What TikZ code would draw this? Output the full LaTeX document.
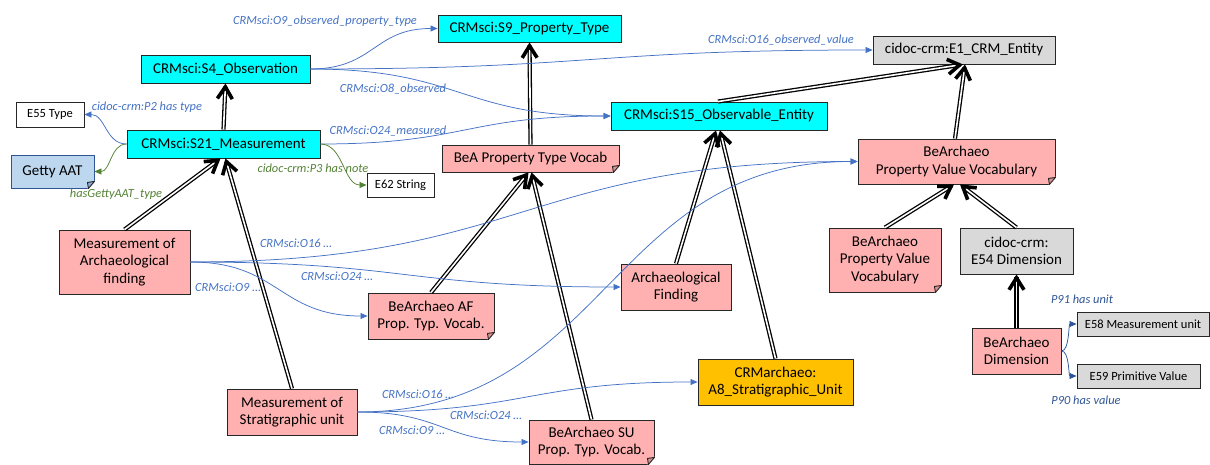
\documentclass[tikz,border=0pt]{standalone}
\usepackage{fontspec}
\setmainfont{Carlito}
\usetikzlibrary{arrows.meta,calc}
\definecolor{cyanc}{HTML}{00FFFF}
\definecolor{pinkc}{HTML}{FFB1B1}
\definecolor{foldp}{HTML}{D89090}
\definecolor{foldb}{HTML}{8FAADC}
\definecolor{greyc}{HTML}{D9D9D9}
\definecolor{orangec}{HTML}{FFC000}
\definecolor{gettyc}{HTML}{BDD7EE}
\definecolor{gettyb}{HTML}{2F5597}
\definecolor{bluec}{HTML}{4472C4}
\definecolor{dbluec}{HTML}{2F5597}
\definecolor{greenc}{HTML}{548235}
\definecolor{borderc}{HTML}{262626}
\tikzset{
 box/.style={draw=borderc, line width=0.9pt, inner sep=0pt, align=center, font=\fontsize{15}{17.5}\selectfont},
 cls/.style={box, fill=cyanc},
 ent/.style={box, fill=greyc},
 pnk/.style={box, fill=pinkc},
 wht/.style={box, fill=white},
 smallfont/.style={font=\fontsize{12.5}{15}\selectfont},
 lbl/.style={inner sep=0pt, text=bluec, font=\fontsize{12.4}{14}\selectfont\itshape},
 glbl/.style={lbl, text=greenc},
 dlbl/.style={lbl, text=dbluec},
 rel/.style={draw=bluec, line width=0.75pt, -{Triangle[length=7pt,width=6pt]}},
 grel/.style={rel, draw=greenc},
 drel/.style={rel, draw=dbluec},
 isaouter/.style={draw=black, line width=4.2pt, shorten >=3pt},
 isainner/.style={draw=white, line width=1.6pt, shorten >=6pt},
 isatip/.style={fill=black, draw=none},
}
\newcommand\isarrow[2]{%
 \draw[isaouter] (#1) -- (#2);
 \draw[isainner] (#1) -- (#2);
 \coordinate (tmpc) at ($(#2)!6.8pt!(#1)$);
 \fill[isatip] ($(#2)!17pt!32:(#1)$) -- (#2) -- ($(#2)!17pt!-32:(#1)$) -- ($(tmpc)!11.2pt!-32:(#1)$) -- (tmpc) -- ($(tmpc)!11.2pt!32:(#1)$) -- cycle;}
\newcommand\foldcorner[2]{%
 \fill[white] ($(#1.south east)+(-7.5,1)$) -- ($(#1.south east)+(1,1)$) -- ($(#1.south east)+(1,-8.5)$) -- cycle;
 \draw[borderc, line width=0.9pt, fill=#2, line join=round] ($(#1.south east)+(-6,0)$) -- ($(#1.south east)+(0,-7)$) -- ($(#1.south east)+(-7,-6)$) -- cycle;}
\begin{document}
\begin{tikzpicture}[x=1pt,y=-1pt]
\useasboundingbox (0,0) rectangle (1210,465);
% nodes
\node[cls, minimum width=183pt, minimum height=27pt] (s9) at (529.5,28.5) {CRMsci:S9\_Property\_Type};
\node[cls, minimum width=169pt, minimum height=28pt] (s4) at (225.5,69) {CRMsci:S4\_Observation};
\node[ent, minimum width=182pt, minimum height=28pt] (e1) at (964,50) {cidoc-crm:E1\_CRM\_Entity};
\node[cls, minimum width=216pt, minimum height=28pt] (s15) at (719,116) {CRMsci:S15\_Observable\_Entity};
\node[wht, smallfont, minimum width=68pt, minimum height=25pt] (e55) at (50,114.5) {E55 Type};
\node[cls, minimum width=193pt, minimum height=28pt] (s21) at (223.5,144) {CRMsci:S21\_Measurement};
\node[box, fill=gettyc, draw=gettyb, minimum width=83pt, minimum height=33pt] (getty) at (52.5,171.5) {Getty AAT};
\node[wht, smallfont, minimum width=67pt, minimum height=24pt] (e62) at (400.5,185) {E62 String};
\node[pnk, minimum width=177pt, minimum height=27pt] (beapt) at (530.5,158.5) {BeA Property Type Vocab};
\node[pnk, minimum width=197pt, minimum height=45pt] (pvv) at (956.5,161.5) {BeArchaeo\\Property Value Vocabulary};
\node[pnk, minimum width=131pt, minimum height=64pt] (maf) at (124.5,262) {Measurement of\\Archaeological\\finding};
\node[pnk, minimum width=112pt, minimum height=64pt] (pvv2) at (885,260) {BeArchaeo\\Property Value\\Vocabulary};
\node[ent, minimum width=113pt, minimum height=46pt] (dimbox) at (1016.5,251) {cidoc-crm:\\E54 Dimension};
\node[pnk, minimum width=110pt, minimum height=46pt] (af) at (676,287) {Archaeological\\Finding};
\node[pnk, minimum width=126pt, minimum height=46pt] (afv) at (431,316) {BeArchaeo AF\\Prop. Typ. Vocab.};
\node[ent, smallfont, minimum width=132pt, minimum height=24pt] (e58) at (1143,324) {E58 Measurement unit};
\node[pnk, minimum width=89pt, minimum height=46pt] (bdim) at (1016.5,351) {BeArchaeo\\Dimension};
\node[ent, smallfont, minimum width=123pt, minimum height=24pt] (e59) at (1138.5,376) {E59 Primitive Value};
\node[box, fill=orangec, minimum width=155pt, minimum height=46pt] (a8) at (775.5,382) {CRMarchaeo:\\A8\_Stratigraphic\_Unit};
\node[pnk, minimum width=130pt, minimum height=46pt] (msu) at (292,412) {Measurement of\\Stratigraphic unit};
\node[pnk, minimum width=125pt, minimum height=44pt] (suv) at (591.5,442) {BeArchaeo SU\\Prop. Typ. Vocab.};
% folded corners
\foldcorner{getty}{foldb}
\foldcorner{beapt}{foldp}
\foldcorner{pvv}{foldp}
\foldcorner{pvv2}{foldp}
\foldcorner{afv}{foldp}
\foldcorner{suv}{foldp}
% inheritance end points
\coordinate (s21a) at ([xshift=-3pt]s21.south);
\coordinate (s21b) at ([xshift=2pt]s21.south);
\coordinate (ptva) at ([xshift=-2pt]beapt.south);
\coordinate (ptvb) at ([xshift=1pt]beapt.south);
\coordinate (s15a) at ([xshift=-3pt]s15.south);
\coordinate (s15b) at ([xshift=1pt]s15.south);
\coordinate (s15t) at ([xshift=-1pt]s15.north);
\coordinate (e1a) at ([xshift=-1pt]e1.south);
\coordinate (e1b) at ([xshift=1pt]e1.south);
\coordinate (pvva) at ([xshift=-2.5pt]pvv.south);
\coordinate (pvvb) at ([xshift=3.5pt]pvv.south);
\coordinate (pvvt) at ([xshift=-1.5pt]pvv.north);
\coordinate (dimtop) at (bdim.north);
\coordinate (dimbot) at (dimbox.south);
% inheritance arrows
\isarrow{s21.north}{s4.south}
\isarrow{maf.north}{s21a}
\isarrow{msu.north}{s21b}
\isarrow{beapt.north}{s9.south}
\isarrow{afv.north}{ptva}
\isarrow{suv.north}{ptvb}
\isarrow{s15t}{e1a}
\isarrow{pvvt}{e1b}
\isarrow{af.north}{s15a}
\isarrow{a8.north}{s15b}
\isarrow{pvv2.north}{pvva}
\isarrow{dimbox.north}{pvvb}
\isarrow{dimtop}{dimbot}
% relations
\draw[rel] (s4.east) .. controls +(64,0) and +(-64,0) .. (s9.west);
\draw[rel] (s4.east) .. controls +(281,0) and +(-281,0) .. (e1.west);
\draw[rel] (s4.east) .. controls +(150,0) and +(-150,0) .. (s15.west);
\draw[rel] (s21.east) .. controls +(145,0) and +(-145,0) .. (s15.west);
\draw[rel] (s21.west) .. controls +(-21,0) and +(21,0) .. (e55.east);
\draw[grel] (s21.west) .. controls +(-16,0) and +(16,0) .. (getty.east);
\draw[grel] (s21.east) .. controls +(23,0) and +(-23,0) .. (e62.west);
\draw[rel] (maf.east) .. controls +(334,0) and +(-334,0) .. (pvv.west);
\draw[rel] (maf.east) .. controls +(215,0) and +(-215,0) .. (af.west);
\draw[rel] (maf.east) .. controls +(89,0) and +(-89,0) .. (afv.west);
\draw[rel] (msu.east) .. controls +(250,0) and +(-250,0) .. (pvv.west);
\draw[rel] (msu.east) .. controls +(170,0) and +(-170,0) .. (a8.west);
\draw[rel] (msu.east) .. controls +(86,0) and +(-86,0) .. (suv.west);
\draw[drel] (bdim.east) .. controls +(8,0) and +(-8,0) .. (e58.west);
\draw[drel] (bdim.east) .. controls +(8,0) and +(-8,0) .. (e59.west);
% labels
\node[lbl] (l1) at (325,21) {CRMsci:O9\_observed\_property\_type};
\node[lbl] (l2) at (781,40) {CRMsci:O16\_observed\_value};
\node[lbl] (l3) at (393,89) {CRMsci:O8\_observed};
\node[lbl] (l4) at (388,131) {CRMsci:O24\_measured};
\node[lbl] (l5) at (147,107) {cidoc-crm:P2 has type};
\node[glbl] (l6) at (116,194) {hasGettyAAT\_type};
\node[glbl] (l7) at (313,168) {cidoc-crm:P3 has note};
\node[lbl] (l8) at (296,243) {CRMsci:O16 …};
\node[lbl] (l9) at (337,276) {CRMsci:O24 …};
\node[lbl] (l10) at (228,287) {CRMsci:O9 …};
\node[lbl] (l11) at (418,394) {CRMsci:O16 …};
\node[lbl] (l12) at (486,415) {CRMsci:O24 …};
\node[lbl] (l13) at (412,430) {CRMsci:O9 …};
\node[dlbl] (l14) at (1082,299) {P91 has unit};
\node[dlbl] (l15) at (1086,400) {P90 has value};
\end{tikzpicture}
\end{document}
